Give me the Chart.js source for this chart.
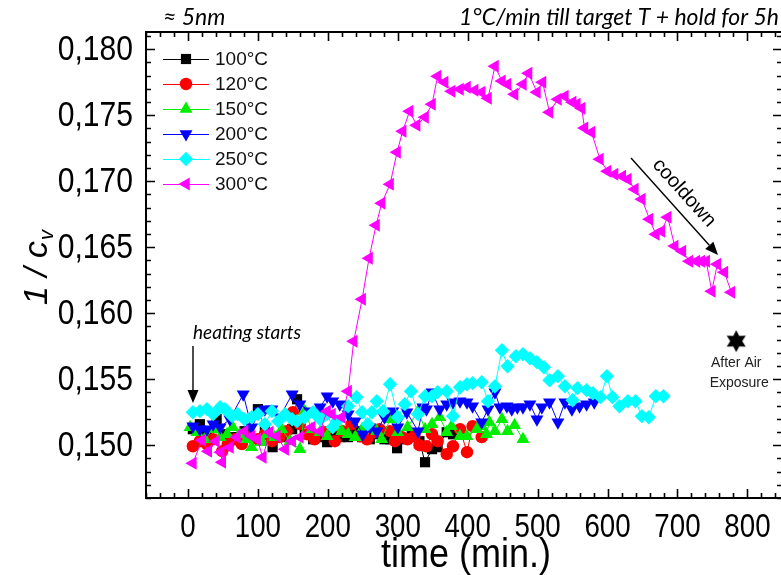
<!DOCTYPE html>
<html>
<head>
<meta charset="utf-8">
<script src="https://cdn.jsdelivr.net/npm/chart.js@4.4.1/dist/chart.umd.min.js"></script>
<style>
  html, body { margin: 0; padding: 0; background: #ffffff; }
  canvas { display: block; }
</style>
</head>
<body>
<canvas id="c" width="781" height="575"></canvas>
<script>
// time (min.) and 1/c_v for each annealing temperature
const t100 = [7,17,27,41,53,67,81,100,110,121,134,149,156,167,179,189,199,210,217,229,239,249,260,270,281,289,299,310,320,331,339,349,357,370,379];
const v100 = [0.15121,0.15159,0.15106,0.15197,0.15083,0.15061,0.15106,0.15273,0.15121,0.14985,0.15061,0.15121,0.15348,0.15083,0.15045,0.15061,0.15023,0.15076,0.15061,0.15061,0.15106,0.15061,0.15045,0.15083,0.15045,0.15045,0.14977,0.15045,0.15068,0.15030,0.14871,0.14970,0.14985,0.15098,0.15083];

const t120 = [7,17,27,36,49,57,67,77,89,100,110,120,131,141,150,160,170,181,196,210,221,234,246,256,267,274,289,296,306,314,324,331,341,349,357,370,379,389,399,407,420];
const v120 = [0.14992,0.15030,0.15008,0.15045,0.14955,0.15008,0.15045,0.15008,0.15061,0.15045,0.15083,0.15030,0.15061,0.15106,0.15250,0.15159,0.15083,0.15045,0.15098,0.15030,0.15106,0.15159,0.15068,0.15045,0.15098,0.15121,0.15106,0.15030,0.15061,0.15045,0.15068,0.15000,0.14992,0.15083,0.15030,0.14932,0.14992,0.15121,0.14947,0.15144,0.15061];

const t150 = [3,13,24,36,46,56,64,74,84,91,106,113,124,134,146,160,167,177,189,199,210,220,229,239,249,260,270,277,289,300,314,329,339,349,360,370,377,389,399,413,420,427,431,439,449,457,467,479];
const v150 = [0.15136,0.15098,0.15045,0.15121,0.15061,0.15083,0.15136,0.15083,0.15045,0.14985,0.15023,0.15083,0.15061,0.15121,0.15030,0.14970,0.15258,0.15121,0.15098,0.15068,0.15136,0.15106,0.15083,0.15061,0.15121,0.15144,0.15106,0.15045,0.15197,0.15098,0.15136,0.15258,0.15121,0.15159,0.15212,0.15098,0.15144,0.15068,0.15068,0.15121,0.15144,0.15083,0.15174,0.15106,0.15197,0.15106,0.15152,0.15045];

const t200 = [7,17,27,36,46,60,79,91,103,110,120,131,149,160,174,189,199,207,217,229,239,250,260,270,281,293,300,313,329,336,341,349,360,370,379,389,399,407,420,429,439,446,456,463,471,479,489,499,506,517,529,539,549,560,570,581];
const v200 = [0.15144,0.15121,0.15121,0.15159,0.15136,0.15197,0.15386,0.15136,0.15258,0.15273,0.15273,0.15212,0.15386,0.15311,0.15258,0.15288,0.15371,0.15333,0.15311,0.15235,0.15182,0.15083,0.15136,0.15106,0.15212,0.15258,0.15136,0.15250,0.15106,0.15288,0.15273,0.15402,0.15273,0.15311,0.15326,0.15333,0.15326,0.15295,0.15174,0.15273,0.15402,0.15288,0.15295,0.15273,0.15288,0.15288,0.15311,0.15197,0.15288,0.15326,0.15174,0.15326,0.15273,0.15295,0.15311,0.15326];

const t250 = [7,17,27,36,46,53,63,71,81,91,100,110,120,129,139,149,156,167,179,189,199,207,213,229,241,249,257,263,270,279,289,300,310,319,329,339,349,357,370,379,389,399,407,420,429,439,449,457,469,479,489,499,509,517,529,539,550,557,570,579,590,599,607,617,629,640,649,659,669,680];
const v250 = [0.15250,0.15258,0.15273,0.15235,0.15288,0.15273,0.15220,0.15235,0.15197,0.15212,0.15235,0.15159,0.15258,0.15182,0.15235,0.15197,0.15182,0.15212,0.15250,0.15197,0.15235,0.15136,0.15182,0.15295,0.15364,0.15250,0.15159,0.15250,0.15333,0.15258,0.15462,0.15212,0.15311,0.15409,0.15235,0.15371,0.15371,0.15402,0.15409,0.15220,0.15439,0.15462,0.15470,0.15477,0.15333,0.15447,0.15720,0.15598,0.15674,0.15689,0.15659,0.15629,0.15591,0.15492,0.15523,0.15447,0.15341,0.15432,0.15417,0.15394,0.15364,0.15523,0.15364,0.15295,0.15333,0.15333,0.15220,0.15212,0.15371,0.15371];

const t300 = [7,20,29,40,47,49,60,70,81,91,99,107,117,127,139,149,160,177,189,199,206,220,229,237,249,259,269,277,289,299,307,317,327,339,349,357,367,377,389,399,410,420,429,439,449,457,467,479,487,499,507,517,529,539,550,556,563,567,577,589,600,610,621,629,639,649,660,669,677,686,696,707,717,727,734,741,749,757,767,777];
const v300 = [0.14864,0.15038,0.14955,0.15030,0.14947,0.14871,0.14985,0.15061,0.15106,0.15068,0.15045,0.14909,0.15098,0.15068,0.14970,0.15030,0.15061,0.15136,0.15106,0.15258,0.15235,0.15212,0.15409,0.15788,0.16106,0.16417,0.16667,0.16833,0.16977,0.17220,0.17379,0.17530,0.17424,0.17485,0.17583,0.17795,0.17750,0.17682,0.17697,0.17712,0.17689,0.17674,0.17629,0.17871,0.17758,0.17735,0.17659,0.17735,0.17818,0.17674,0.17750,0.17523,0.17621,0.17644,0.17598,0.17583,0.17553,0.17402,0.17371,0.17167,0.17076,0.17053,0.17038,0.17015,0.16939,0.16864,0.16712,0.16598,0.16621,0.16727,0.16508,0.16470,0.16394,0.16394,0.16394,0.16394,0.16167,0.16371,0.16311,0.16159];

// single measurement after the sample was exposed to air
const tAir = [784];
const vAir = [0.15788];

const seriesLabels = ['100°C', '120°C', '150°C', '200°C', '250°C', '300°C'];
const xTickValues = [0, 100, 200, 300, 400, 500, 600, 700, 800];
const yTickValues = [0.150, 0.155, 0.160, 0.165, 0.170, 0.175, 0.180];

const X_MIN = -60, X_MAX = 848, X_MINOR = 20;
const Y_MIN = 0.146, Y_MAX = 0.1813, Y_MINOR = 0.001;

const TEXT_FONT = '"Liberation Sans", Arial, sans-serif';
const NOTE_FONT = 'Lato, "Open Sans", sans-serif';

const looks = [
  { color: '#000000', style: 'rect',     rotation: 0,   radius: 7.2 },
  { color: '#ff0000', style: 'circle',   rotation: 0,   radius: 6.2 },
  { color: '#00ee00', style: 'triangle', rotation: 0,   radius: 7.5 },
  { color: '#0000ff', style: 'triangle', rotation: 180, radius: 7.5 },
  { color: '#00ffff', style: 'rectRot',  rotation: 0,   radius: 7.2 },
  { color: '#ff00ff', style: 'triangle', rotation: -90, radius: 7.5 }
];

const seriesT = [t100, t120, t150, t200, t250, t300];
const seriesV = [v100, v120, v150, v200, v250, v300];

function toPoints(ts, vs) { return ts.map((x, i) => ({ x: x, y: vs[i] })); }

// six-pointed star used for the after-air point
function makeStar(outer, inner) {
  const s = Math.ceil(outer * 2 + 2);
  const cv = document.createElement('canvas');
  cv.width = s; cv.height = s;
  const g = cv.getContext('2d');
  g.fillStyle = '#000';
  g.beginPath();
  for (let k = 0; k < 12; k++) {
    const a = -Math.PI / 2 + k * Math.PI / 6;
    const r = (k % 2 === 0) ? outer : inner;
    const px = s / 2 + r * Math.cos(a), py = s / 2 + r * Math.sin(a);
    if (k === 0) g.moveTo(px, py); else g.lineTo(px, py);
  }
  g.closePath();
  g.fill();
  return cv;
}

const datasets = seriesLabels.map((label, i) => ({
  label: label,
  data: toPoints(seriesT[i], seriesV[i]),
  showLine: true,
  borderColor: looks[i].color,
  backgroundColor: looks[i].color,
  borderWidth: 1,
  pointStyle: looks[i].style,
  pointRotation: looks[i].rotation,
  pointRadius: looks[i].radius,
  pointBorderWidth: 0,
  pointBackgroundColor: looks[i].color,
  tension: 0,
  order: seriesLabels.length - i
}));

datasets.push({
  label: 'After Air Exposure',
  data: toPoints(tAir, vAir),
  showLine: false,
  pointStyle: makeStar(11, 6),
  pointRadius: 10,
  order: 0
});

const fmtY = v => v.toFixed(3).replace('.', ',');

function arrow(ctx, x1, y1, x2, y2) {
  const ang = Math.atan2(y2 - y1, x2 - x1);
  const head = 13, half = 5.5;
  const bx = x2 - head * Math.cos(ang), by = y2 - head * Math.sin(ang);
  ctx.strokeStyle = '#000';
  ctx.fillStyle = '#000';
  ctx.lineWidth = 1.4;
  ctx.beginPath(); ctx.moveTo(x1, y1); ctx.lineTo(bx, by); ctx.stroke();
  ctx.beginPath();
  ctx.moveTo(x2, y2);
  ctx.lineTo(bx + half * Math.sin(ang), by - half * Math.cos(ang));
  ctx.lineTo(bx - half * Math.sin(ang), by + half * Math.cos(ang));
  ctx.closePath();
  ctx.fill();
}

// condensed text (narrow sans look)
function narrowText(ctx, text, x, y, squeeze) {
  ctx.save();
  ctx.translate(x, y);
  ctx.scale(squeeze, 1);
  ctx.fillText(text, 0, 0);
  ctx.restore();
}

const decor = {
  id: 'decor',
  afterDraw(chart) {
    const ctx = chart.ctx;
    const xs = chart.scales.x, ys = chart.scales.y;
    const a = chart.chartArea;
    ctx.save();

    // frame
    ctx.strokeStyle = '#000';
    ctx.lineWidth = 2;
    ctx.strokeRect(a.left, a.top, a.right - a.left + 2, a.bottom - a.top);

    // inward tick marks on all four sides
    ctx.lineWidth = 1.6;
    ctx.beginPath();
    for (let k = 0; ; k++) {
      const v = X_MIN + k * X_MINOR;
      if (v > X_MAX + 1e-9) break;
      const major = Math.abs(v % 100) < 1e-6;
      const len = major ? 9 : 5;
      const px = Math.round(xs.getPixelForValue(v)) + 0.5;
      ctx.moveTo(px, a.bottom); ctx.lineTo(px, a.bottom - len);
      ctx.moveTo(px, a.top); ctx.lineTo(px, a.top + len);
    }
    for (let k = 0; ; k++) {
      const v = Y_MIN + k * Y_MINOR;
      if (v > Y_MAX + 1e-9) break;
      const major = Math.abs(Math.round(v * 1000) % 5) === 0;
      const len = major ? 9 : 5;
      const py = Math.round(ys.getPixelForValue(v)) + 0.5;
      ctx.moveTo(a.left, py); ctx.lineTo(a.left + len, py);
      ctx.moveTo(a.right + 1, py); ctx.lineTo(a.right + 1 - len, py);
    }
    ctx.stroke();

    // tick labels
    ctx.fillStyle = '#000';
    ctx.font = '35px ' + TEXT_FONT;
    ctx.textAlign = 'right';
    ctx.textBaseline = 'middle';
    yTickValues.forEach(v => narrowText(ctx, fmtY(v), a.left - 13, ys.getPixelForValue(v) + 1, 0.86));
    ctx.font = '33px ' + TEXT_FONT;
    ctx.textAlign = 'center';
    ctx.textBaseline = 'alphabetic';
    xTickValues.forEach(v => narrowText(ctx, String(v), xs.getPixelForValue(v), 537, 0.84));

    // legend
    const lx0 = 163, lx1 = 209, lm = 186, ltx = 215;
    const rows = [59, 84, 109, 134, 159, 184];
    ctx.font = '19px ' + TEXT_FONT;
    ctx.textBaseline = 'middle';
    ctx.textAlign = 'left';
    seriesLabels.forEach((label, i) => {
      const y = rows[i];
      ctx.strokeStyle = looks[i].color;
      ctx.lineWidth = 1;
      ctx.beginPath(); ctx.moveTo(lx0, y + 0.5); ctx.lineTo(lx1, y + 0.5); ctx.stroke();
      ctx.fillStyle = looks[i].color;
      Chart.helpers.drawPoint(ctx, {
        pointStyle: looks[i].style, rotation: looks[i].rotation,
        radius: looks[i].radius, borderWidth: 0
      }, lm, y);
      ctx.fillStyle = '#111';
      ctx.fillText(label, ltx, y + 1);
    });

    // axis titles
    ctx.fillStyle = '#000';
    ctx.textAlign = 'center';
    ctx.textBaseline = 'alphabetic';
    ctx.font = '40px ' + TEXT_FONT;
    narrowText(ctx, 'time (min.)', 466, 567, 0.9);

    ctx.save();
    ctx.translate(47, 268);
    ctx.rotate(-Math.PI / 2);
    ctx.textAlign = 'left';
    ctx.font = 'italic 34px ' + TEXT_FONT;
    const main = '1 / c';
    const wMain = ctx.measureText(main).width;
    ctx.font = 'italic 20px ' + TEXT_FONT;
    const wSub = ctx.measureText('v').width;
    const x0 = -(wMain + wSub) / 2;
    ctx.font = 'italic 34px ' + TEXT_FONT;
    ctx.fillText(main, x0, 0);
    ctx.font = 'italic 20px ' + TEXT_FONT;
    ctx.fillText('v', x0 + wMain + 1, 6);
    ctx.restore();

    // header notes
    ctx.font = 'italic 23px ' + NOTE_FONT;
    ctx.textAlign = 'left';
    ctx.fillText('≈ 5nm', 163, 25);
    ctx.textAlign = 'right';
    ctx.fillText('1°C/min till target T + hold for 5h', 779, 25);

    // heating annotation
    ctx.textAlign = 'left';
    ctx.font = 'italic 19px ' + NOTE_FONT;
    ctx.fillText('heating starts', 193, 339);
    arrow(ctx, 193, 346, 193, 403);

    // cooldown annotation
    arrow(ctx, 631, 158, 718, 255);
    ctx.save();
    ctx.translate(684, 193);
    ctx.rotate(Math.atan2(97, 87));
    ctx.font = '20px ' + TEXT_FONT;
    ctx.textAlign = 'center';
    ctx.textBaseline = 'middle';
    ctx.fillText('cooldown', 0, 0);
    ctx.restore();

    // air exposure label
    ctx.font = '14px ' + TEXT_FONT;
    ctx.textAlign = 'center';
    ctx.textBaseline = 'middle';
    ctx.fillStyle = '#222';
    const sx = xs.getPixelForValue(tAir[0]);
    ctx.fillText('After Air', sx, 363);
    ctx.fillText('Exposure', sx + 3, 383);

    ctx.restore();
  }
};

new Chart(document.getElementById('c'), {
  type: 'scatter',
  data: { datasets: datasets },
  options: {
    responsive: false,
    animation: false,
    devicePixelRatio: 1,
    layout: { autoPadding: false, padding: { top: 32, right: 0, left: 0, bottom: 0 } },
    plugins: { legend: { display: false }, tooltip: { enabled: false } },
    scales: {
      x: {
        type: 'linear', min: X_MIN, max: X_MAX,
        afterFit: s => { s.height = 77; s.paddingLeft = 0; s.paddingRight = 0; },
        afterBuildTicks: s => { s.ticks = xTickValues.map(v => ({ value: v })); },
        grid: { display: false, drawTicks: false },
        border: { display: false },
        ticks: { display: false }
      },
      y: {
        type: 'linear', min: Y_MIN, max: Y_MAX,
        afterFit: s => { s.width = 146; s.paddingTop = 0; s.paddingBottom = 0; },
        afterBuildTicks: s => { s.ticks = yTickValues.map(v => ({ value: v })); },
        grid: { display: false, drawTicks: false },
        border: { display: false },
        ticks: { display: false }
      }
    }
  },
  plugins: [decor]
});
</script>
</body>
</html>
